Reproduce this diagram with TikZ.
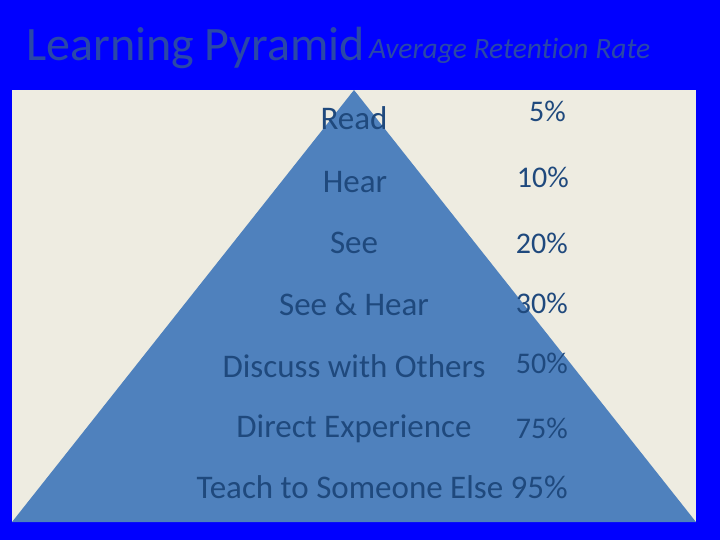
\documentclass[tikz,border=0pt]{standalone}
\usepackage{fontspec}
\setmainfont[Ligatures=NoCommon]{Carlito}
\definecolor{bgblue}{RGB}{0,0,255}
\definecolor{beige}{RGB}{238,236,225}
\definecolor{pyr}{RGB}{79,129,189}
\definecolor{txt}{RGB}{31,73,125}
\definecolor{ttl}{RGB}{42,72,168}
\begin{document}
\begin{tikzpicture}[x=1pt,y=-1pt,
  lbl/.style={inner sep=0pt,text=txt,font=\fontsize{33}{36}\selectfont,anchor=base},
  pct/.style={inner sep=0pt,text=txt,font=\fontsize{30}{36}\selectfont,anchor=base east}]
\useasboundingbox (0,0) rectangle (720,540);
\fill[bgblue] (0,0) rectangle (720,540);
\fill[beige] (12,90) rectangle (696,522);
\coordinate (apex) at (354,90);
\coordinate (bl) at (12,522);
\coordinate (br) at (696,522);
\fill[pyr] (apex) -- (br) -- (bl) -- cycle;
\node[inner sep=0pt,anchor=base west,text=ttl,font=\fontsize{48}{52}\selectfont] (title) at (26,61) {Learning Pyramid};
\node[inner sep=0pt,anchor=base west,text=ttl,font=\fontsize{29.5}{32}\selectfont\itshape] (sub) at (369,59) {Average Retention Rate};
\node[lbl] (l1) at (354,130) {Read};
\node[lbl] (l2) at (355,193) {Hear};
\node[lbl] (l3) at (354,253) {See};
\node[lbl] (l4) at (354,315) {See \& Hear};
\node[lbl] (l5) at (354,377) {Discuss with Others};
\node[lbl] (l6) at (354,437) {Direct Experience};
\node[lbl,anchor=base east] (l7) at (568,498) {Teach to Someone Else 95\%};
\node[pct] (p1) at (566,122) {5\%};
\node[pct] (p2) at (569,188) {10\%};
\node[pct] (p3) at (568,253) {20\%};
\node[pct] (p4) at (568,313) {30\%};
\node[pct] (p5) at (568,373) {50\%};
\node[pct] (p6) at (568,438) {75\%};
\end{tikzpicture}
\end{document}
